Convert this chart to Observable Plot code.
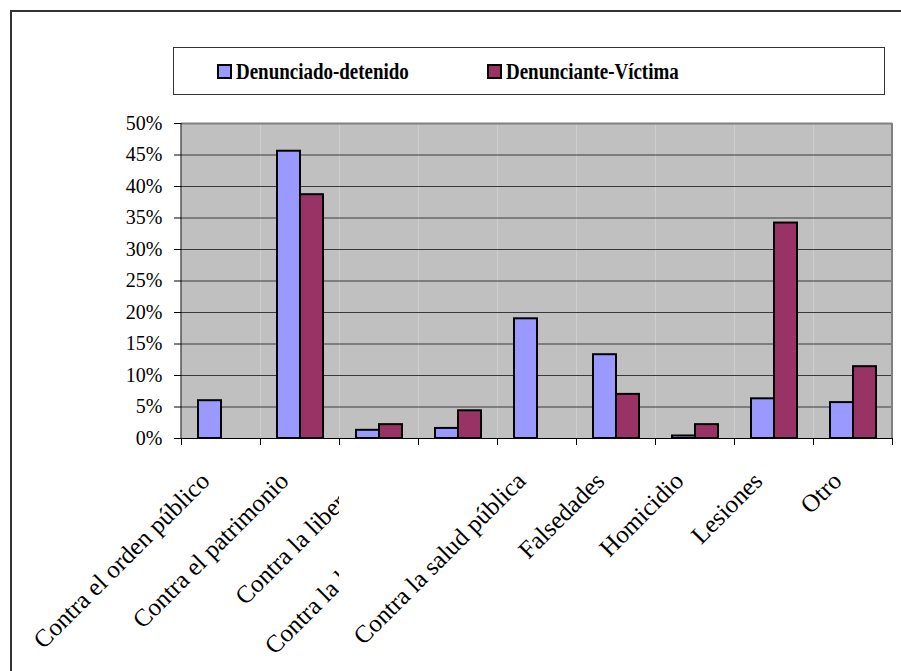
<!DOCTYPE html>
<html>
<head>
<meta charset="utf-8">
<script src="https://cdn.jsdelivr.net/npm/d3@7"></script>
<script src="https://cdn.jsdelivr.net/npm/@observablehq/plot@0.6"></script>
<style>
  body { margin: 0; background: #fff; }
  #wrap { position: relative; width: 901px; height: 671px; overflow: hidden; background: #fff; }
  #frame { position: absolute; left: 10px; top: 10px; width: 1000px; height: 1000px;
           border-top: 2px solid #333; border-left: 2px solid #333; }
  #chart { position: absolute; left: 0; top: 0; }
  #legend { position: absolute; left: 173px; top: 47px; width: 712px; height: 48px;
            border: 1px solid #333; box-sizing: border-box; background: #fff;
            font-family: "Liberation Serif", serif; font-weight: bold; font-size: 24px; color: #000; }
  .item { position: absolute; top: 11px; display: flex; align-items: center; gap: 4px; line-height: 24px; white-space: nowrap; }
  .sw { display: inline-block; width: 11px; height: 11px; border: 2px solid #000; flex: none; }
  .lt { display: inline-block; transform: scaleX(0.79); transform-origin: left center; }
</style>
</head>
<body>
<div id="wrap">
  <div id="frame"></div>
  <div id="chart"></div>
  <div id="legend"></div>
</div>
<script>
const categories = [
  "Contra el orden público",
  "Contra el patrimonio",
  "Contra la libertad",
  "Contra la libertad sexual",
  "Contra la salud pública",
  "Falsedades",
  "Homicidio",
  "Lesiones",
  "Otro"
];
const seriesNames = ["Denunciado-detenido", "Denunciante-Víctima"];
const seriesColors = ["#9999FF", "#993366"];
const detenido = [6.0, 45.6, 1.3, 1.6, 19.0, 13.3, 0.4, 6.3, 5.7];
const victima  = [0,   38.7, 2.2, 4.4, 0,    7.0,  2.2, 34.2, 11.4];
const yTicks = [0, 5, 10, 15, 20, 25, 30, 35, 40, 45, 50];
const yTickLabels = ["0%", "5%", "10%", "15%", "20%", "25%", "30%", "35%", "40%", "45%", "50%"];
const clippedCategories = ["Contra la libertad", "Contra la libertad sexual"];

const rows = [];
categories.forEach((c, i) => {
  rows.push({cat: c, series: seriesNames[0], value: detenido[i]});
  rows.push({cat: c, series: seriesNames[1], value: victima[i]});
});
const bars = rows.filter(d => d.value > 0);

// Legend
const legend = document.getElementById("legend");
const legendLeft = [43, 313];
seriesNames.forEach((s, i) => {
  const it = document.createElement("div");
  it.className = "item";
  it.style.left = legendLeft[i] + "px";
  const sw = document.createElement("span");
  sw.className = "sw";
  sw.style.background = seriesColors[i];
  const tx = document.createElement("span");
  tx.className = "lt";
  tx.textContent = s;
  it.appendChild(sw); it.appendChild(tx);
  legend.appendChild(it);
});

const plot = Plot.plot({
  width: 901, height: 671,
  marginLeft: 178, marginRight: 6, marginTop: 123, marginBottom: 233,
  style: {background: "transparent", fontFamily: "Liberation Serif", color: "#000", overflow: "visible"},
  fx: {domain: categories, padding: 0, axis: null},
  x: {domain: seriesNames, paddingInner: 0, paddingOuter: 0.7, axis: null},
  y: {domain: [0, 50], axis: null},
  color: {domain: seriesNames, range: seriesColors},
  marks: [
    Plot.frame({fill: "#C0C0C0", stroke: "none"}),
    Plot.ruleY(yTicks.filter(t => t > 0 && t < 50), {stroke: "#3a3a3a", strokeWidth: 1}),
    Plot.ruleY([50], {stroke: "#808080", strokeWidth: 2}),
    Plot.barY(bars, {fx: "cat", x: "series", y: "value", fill: "series", stroke: "#000", strokeWidth: 2}),
    Plot.ruleY([0], {stroke: "#000", strokeWidth: 1}),
    Plot.axisY(yTicks, {tickSize: 7, tickPadding: 12, label: null, tickFormat: d => yTickLabels[yTicks.indexOf(d)],
      fontSize: 20, fontFamily: "Liberation Serif", stroke: "#000"}),
    Plot.text(categories, {fx: d => d, text: d => d, frameAnchor: "bottom", rotate: -45,
      textAnchor: "end", dx: -10, dy: 44, fontSize: 25, fontFamily: "Liberation Serif", fill: "#000"})
  ]
});
document.getElementById("chart").appendChild(plot);

// Axis lines and category boundary ticks from the scales
const ns = "http://www.w3.org/2000/svg";
const fx = plot.scale("fx"), y = plot.scale("y");
const step = fx.step || fx.bandwidth;
const x0 = fx.apply(categories[0]);
const y0 = y.apply(0), y50 = y.apply(50);
const svg = d3.select(plot);
const ga = svg.append("g");
ga.append("line").attr("x1", x0 + categories.length * step).attr("x2", x0 + categories.length * step)
  .attr("y1", y50).attr("y2", y0).attr("stroke", "#808080").attr("stroke-width", 2);
ga.append("line").attr("x1", x0).attr("x2", x0).attr("y1", y50).attr("y2", y0)
  .attr("stroke", "#000").attr("stroke-width", 1);
for (let i = 0; i <= categories.length; i++) {
  const xx = Math.round(x0 + i * step) + 0.5;
  ga.append("line").attr("x1", xx).attr("x2", xx).attr("y1", y0).attr("y2", y0 + 7)
    .attr("stroke", "#000").attr("stroke-width", 1);
}

// Clip overlapping labels at the start of the third category (as in the source)
const clipX = fx.apply(clippedCategories[0]);
let defs = svg.append("defs");
let k = 0;
svg.selectAll("text").filter(function() { return clippedCategories.includes(this.textContent); })
  .each(function() {
    const parent = this.parentNode;
    const g = document.createElementNS(ns, "g");
    parent.insertBefore(g, this);
    g.appendChild(this);
    const m = g.getCTM();
    const id = "clipLbl" + (k++);
    const lx = (clipX - m.e) / m.a;
    defs.append("clipPath").attr("id", id).attr("clipPathUnits", "userSpaceOnUse")
      .append("rect").attr("x", lx - 5000).attr("y", -5000).attr("width", 5000).attr("height", 10000);
    g.setAttribute("clip-path", `url(#${id})`);
  });
</script>
</body>
</html>
